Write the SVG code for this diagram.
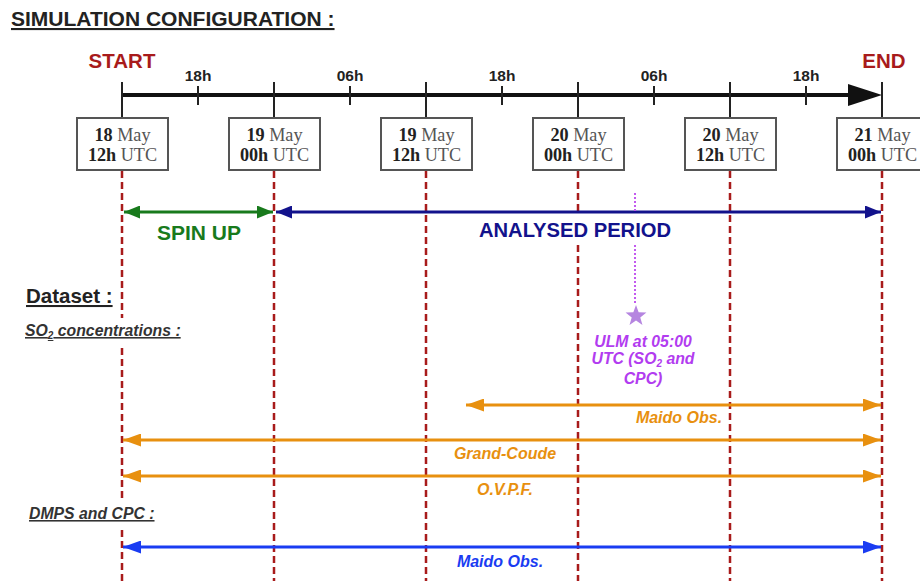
<svg xmlns="http://www.w3.org/2000/svg" width="920" height="581" viewBox="0 0 920 581">
<style>
  .sans { font-family: "Liberation Sans", Arial, sans-serif; font-weight: bold; }
  .serif { font-family: "Liberation Serif", "Times New Roman", serif; font-size: 18.2px; fill: #555; }
  .serif .b { font-weight: bold; fill: #222; }
  .title { font-size: 21px; fill: #222; text-decoration: underline; }
  .red { fill: #a81b1b; font-size: 20.5px; }
  .tick { font-size: 15.5px; fill: #222; }
  .box { fill: #fff; stroke: #555; stroke-width: 2; }
  .vdash { stroke: #a81b1b; stroke-width: 2.5; stroke-dasharray: 7 4; fill: none; }
  .sec { font-size: 20.5px; fill: #222; text-decoration: underline; }
  .sub { font-size: 15.8px; fill: #333; font-style: italic; text-decoration: underline; }
  .orange { fill: #e8900f; font-size: 16px; font-style: italic; }
  .oline { stroke: #e8900f; stroke-width: 3; }
</style>
<defs>
  <marker id="ah-green" viewBox="0 0 10 10" refX="10" refY="5" markerWidth="16" markerHeight="13" markerUnits="userSpaceOnUse" orient="auto-start-reverse" preserveAspectRatio="none"><path d="M0,0 L10,5 L0,10 z" fill="#187a1c"/></marker>
  <marker id="ah-navy" viewBox="0 0 10 10" refX="10" refY="5" markerWidth="16" markerHeight="13" markerUnits="userSpaceOnUse" orient="auto-start-reverse" preserveAspectRatio="none"><path d="M0,0 L10,5 L0,10 z" fill="#12128c"/></marker>
  <marker id="ah-orange" viewBox="0 0 10 10" refX="10" refY="5" markerWidth="18" markerHeight="13" markerUnits="userSpaceOnUse" orient="auto-start-reverse" preserveAspectRatio="none"><path d="M0,0 L10,5 L0,10 z" fill="#e8900f"/></marker>
  <marker id="ah-blue" viewBox="0 0 10 10" refX="10" refY="5" markerWidth="18" markerHeight="13" markerUnits="userSpaceOnUse" orient="auto-start-reverse" preserveAspectRatio="none"><path d="M0,0 L10,5 L0,10 z" fill="#1a3cf2"/></marker>
</defs>
<rect width="920" height="581" fill="#fff"/>

<text id="title" class="sans title" x="11" y="26">SIMULATION CONFIGURATION :</text>

<g id="timeline">
  <text class="sans red" x="122" y="68" text-anchor="middle">START</text>
  <text class="sans red" x="884" y="68" text-anchor="middle">END</text>
  <line x1="122" y1="95" x2="852" y2="95" stroke="#111" stroke-width="4"/>
  <polygon points="848,84 882,95 848,106" fill="#111"/>
  <g stroke="#222" stroke-width="2">
    <line x1="122" y1="82" x2="122" y2="117"/>
    <line x1="274" y1="82" x2="274" y2="117"/>
    <line x1="426" y1="82" x2="426" y2="117"/>
    <line x1="578" y1="82" x2="578" y2="117"/>
    <line x1="730" y1="82" x2="730" y2="117"/>
    <line x1="882" y1="82" x2="882" y2="117"/>
    <line x1="198" y1="86" x2="198" y2="105"/>
    <line x1="350" y1="86" x2="350" y2="105"/>
    <line x1="502" y1="86" x2="502" y2="105"/>
    <line x1="654" y1="86" x2="654" y2="105"/>
    <line x1="806" y1="86" x2="806" y2="105"/>
  </g>
  <g class="sans tick" text-anchor="middle">
    <text x="198" y="81">18h</text>
    <text x="350" y="81">06h</text>
    <text x="502" y="81">18h</text>
    <text x="654" y="81">06h</text>
    <text x="806" y="81">18h</text>
  </g>
</g>

<g id="vlines">
  <path class="vdash" d="M122,171 V318 M122,348 V500 M122,530 V581"/>
  <path class="vdash" d="M274,171 V581"/>
  <path class="vdash" d="M426,171 V581"/>
  <path class="vdash" d="M578,171 V215 M578,245 V581"/>
  <path class="vdash" d="M730,171 V581"/>
  <path class="vdash" d="M882,171 V581"/>
</g>

<g id="box-18may12">
  <rect class="box" x="77" y="118" width="91" height="52"/>
  <text class="serif" x="122.5" y="141" text-anchor="middle"><tspan class="b">18</tspan> May</text>
  <text class="serif" x="122.5" y="161" text-anchor="middle"><tspan class="b">12h</tspan> UTC</text>
</g>
<g id="box-19may00">
  <rect class="box" x="229" y="118" width="91" height="52"/>
  <text class="serif" x="274.5" y="141" text-anchor="middle"><tspan class="b">19</tspan> May</text>
  <text class="serif" x="274.5" y="161" text-anchor="middle"><tspan class="b">00h</tspan> UTC</text>
</g>
<g id="box-19may12">
  <rect class="box" x="381" y="118" width="91" height="52"/>
  <text class="serif" x="426.5" y="141" text-anchor="middle"><tspan class="b">19</tspan> May</text>
  <text class="serif" x="426.5" y="161" text-anchor="middle"><tspan class="b">12h</tspan> UTC</text>
</g>
<g id="box-20may00">
  <rect class="box" x="533" y="118" width="91" height="52"/>
  <text class="serif" x="578.5" y="141" text-anchor="middle"><tspan class="b">20</tspan> May</text>
  <text class="serif" x="578.5" y="161" text-anchor="middle"><tspan class="b">00h</tspan> UTC</text>
</g>
<g id="box-20may12">
  <rect class="box" x="685" y="118" width="91" height="52"/>
  <text class="serif" x="730.5" y="141" text-anchor="middle"><tspan class="b">20</tspan> May</text>
  <text class="serif" x="730.5" y="161" text-anchor="middle"><tspan class="b">12h</tspan> UTC</text>
</g>
<g id="box-21may00">
  <rect class="box" x="837" y="118" width="91" height="52"/>
  <text class="serif" x="882.5" y="141" text-anchor="middle"><tspan class="b">21</tspan> May</text>
  <text class="serif" x="882.5" y="161" text-anchor="middle"><tspan class="b">00h</tspan> UTC</text>
</g>

<g id="connectors">
  <line x1="124" y1="212" x2="273" y2="212" stroke="#187a1c" stroke-width="3" marker-start="url(#ah-green)" marker-end="url(#ah-green)"/>
  <line x1="276" y1="212" x2="881" y2="212" stroke="#12128c" stroke-width="3" marker-start="url(#ah-navy)" marker-end="url(#ah-navy)"/>
  <line x1="466" y1="405" x2="881" y2="405" class="oline" marker-start="url(#ah-orange)" marker-end="url(#ah-orange)"/>
  <line x1="123" y1="440" x2="881" y2="440" class="oline" marker-start="url(#ah-orange)" marker-end="url(#ah-orange)"/>
  <line x1="123" y1="476" x2="881" y2="476" class="oline" marker-start="url(#ah-orange)" marker-end="url(#ah-orange)"/>
  <line x1="123" y1="547" x2="881" y2="547" stroke="#1a3cf2" stroke-width="3" marker-start="url(#ah-blue)" marker-end="url(#ah-blue)"/>
  <path d="M635,193 V213 M635,245 V304" stroke="#c35af0" stroke-width="2" stroke-dasharray="2 2" fill="none"/>
</g>

<g id="spinup-label">
  <text class="sans" x="199" y="240" text-anchor="middle" font-size="21" fill="#187a1c">SPIN UP</text>
</g>
<g id="analysed-label">
  <text class="sans" x="575" y="237" text-anchor="middle" font-size="20.2" fill="#12128c">ANALYSED PERIOD</text>
</g>

<g id="ulm">
  <polygon points="636,305 638.65,312.36 646.46,312.6 640.28,317.39 642.47,324.9 636,320.5 629.53,324.9 631.72,317.39 625.54,312.6 633.35,312.36" fill="#b585e0"/>
  <g class="sans" font-style="italic" font-size="15.8" fill="#b23cf0" text-anchor="middle">
    <text x="643" y="347">ULM at 05:00</text>
    <text x="643" y="364">UTC (SO<tspan font-size="10" dy="3">2</tspan><tspan dy="-3"> and</tspan></text>
    <text x="643" y="384">CPC)</text>
  </g>
</g>

<g id="dataset">
  <text class="sans sec" x="26" y="303">Dataset :</text>
  <text class="sans sub" x="25" y="336">SO<tspan font-size="10" dy="3">2</tspan><tspan dy="-3"> concentrations :</tspan></text>
  <text class="sans sub" x="29" y="519">DMPS and CPC :</text>
</g>

<g id="obs-labels">
  <text class="sans orange" x="679" y="423" text-anchor="middle">Maido Obs.</text>
  <text class="sans orange" x="505" y="459" text-anchor="middle">Grand-Coude</text>
  <text class="sans orange" x="505" y="495" text-anchor="middle">O.V.P.F.</text>
  <text class="sans" x="500" y="567" text-anchor="middle" font-size="16" font-style="italic" fill="#1a3cf2">Maido Obs.</text>
</g>
</svg>
